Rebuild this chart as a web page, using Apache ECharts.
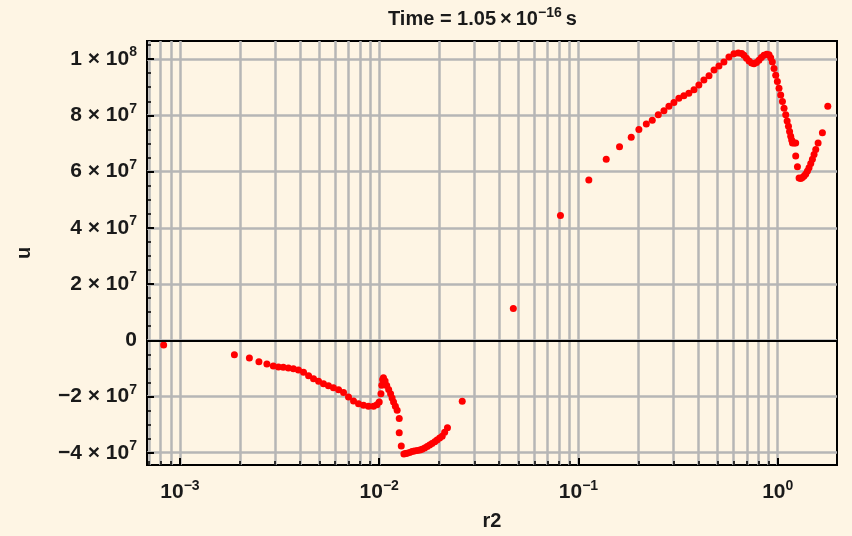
<!DOCTYPE html>
<html>
<head>
<meta charset="utf-8">
<script src="https://cdn.jsdelivr.net/npm/echarts@6/dist/echarts.min.js"></script>
<style>
html,body{margin:0;padding:0;background:#fef5e4;}
#chart{width:852px;height:536px;}
</style>
</head>
<body>
<div id="chart"></div>
<script>
// r2 / u samples
var r2 = [
  8.28e-4, 1.875e-3, 2.23e-3, 2.49e-3, 2.73e-3, 2.94e-3, 3.12e-3, 3.30e-3, 3.50e-3, 3.71e-3,
  3.93e-3, 4.17e-3, 4.42e-3, 4.68e-3, 4.96e-3, 5.25e-3, 5.56e-3, 5.89e-3, 6.25e-3, 6.62e-3,
  7.01e-3, 7.43e-3, 7.87e-3, 8.34e-3, 8.83e-3, 9.36e-3, 9.73e-3, 1.00e-2, 1.02e-2, 1.03e-2,
  1.04e-2, 1.05e-2, 1.07e-2, 1.09e-2, 1.115e-2, 1.14e-2, 1.16e-2, 1.18e-2, 1.205e-2, 1.23e-2,
  1.26e-2, 1.26e-2, 1.29e-2, 1.33e-2, 1.355e-2, 1.38e-2, 1.42e-2, 1.46e-2, 1.50e-2, 1.55e-2,
  1.60e-2, 1.64e-2, 1.69e-2, 1.74e-2, 1.79e-2, 1.84e-2, 1.90e-2, 1.95e-2, 2.01e-2, 2.07e-2,
  2.13e-2, 2.20e-2, 2.61e-2, 4.71e-2, 8.12e-2, 0.1127, 0.1378, 0.1607, 0.184, 0.201,
  0.219, 0.2346, 0.2515, 0.2685, 0.2844, 0.3013, 0.319, 0.338, 0.358, 0.38,
  0.402, 0.426, 0.452, 0.479, 0.507, 0.537, 0.569, 0.603, 0.634, 0.660,
  0.677, 0.697, 0.718, 0.740, 0.760, 0.782, 0.805, 0.828, 0.853, 0.880,
  0.904, 0.922, 0.940, 0.958, 0.977, 0.996, 1.015, 1.035, 1.056, 1.076,
  1.097, 1.115, 1.132, 1.147, 1.162, 1.175, 1.186, 1.21, 1.231, 1.231,
  1.256, 1.280, 1.305, 1.330, 1.356, 1.383, 1.41, 1.436, 1.465, 1.493,
  1.522, 1.552, 1.595, 1.676, 1.784
];
var u = [
  -1.66e6, -5.18e6, -6.34e6, -7.64e6, -8.46e6, -9.16e6, -9.5e6, -9.6e6, -9.87e6, -1.01e7,
  -1.06e7, -1.14e7, -1.26e7, -1.37e7, -1.46e7, -1.55e7, -1.62e7, -1.69e7, -1.76e7, -1.86e7,
  -2.02e7, -2.16e7, -2.26e7, -2.31e7, -2.35e7, -2.35e7, -2.29e7, -2.2e7, -1.9e7, -1.6e7,
  -1.4e7, -1.33e7, -1.45e7, -1.61e7, -1.75e7, -1.90e7, -2.05e7, -2.2e7, -2.35e7, -2.49e7,
  -2.78e7, -3.29e7, -3.76e7, -4.05e7, -4.03e7, -4.02e7, -3.99e7, -3.96e7, -3.94e7, -3.92e7,
  -3.90e7, -3.88e7, -3.83e7, -3.78e7, -3.73e7, -3.67e7, -3.61e7, -3.55e7, -3.48e7, -3.41e7,
  -3.27e7, -3.11e7, -2.17e7, 1.13e7, 4.44e7, 5.70e7, 6.44e7, 6.88e7, 7.22e7, 7.50e7,
  7.69e7, 7.83e7, 8.02e7, 8.16e7, 8.32e7, 8.46e7, 8.61e7, 8.70e7, 8.79e7, 8.91e7,
  9.08e7, 9.26e7, 9.41e7, 9.61e7, 9.76e7, 9.9e7, 1.008e8, 1.0195e8, 1.022e8, 1.020e8,
  1.014e8, 1.003e8, 9.93e7, 9.86e7, 9.84e7, 9.88e7, 9.96e7, 1.006e8, 1.014e8, 1.017e8,
  1.016e8, 1.005e8, 9.90e7, 9.67e7, 9.43e7, 9.2e7, 8.96e7, 8.72e7, 8.49e7, 8.25e7,
  8.02e7, 7.80e7, 7.61e7, 7.43e7, 7.26e7, 7.12e7, 7.02e7, 7.02e7, 7.02e7, 6.55e7,
  6.17e7, 5.77e7, 5.75e7, 5.79e7, 5.84e7, 5.91e7, 6.02e7, 6.14e7, 6.29e7, 6.44e7,
  6.61e7, 6.79e7, 7.02e7, 7.38e7, 8.32e7
];

var xTicks = [0.001, 0.01, 0.1, 1];
var xMinorTicks = [
  7e-4, 8e-4, 9e-4,
  0.002, 0.003, 0.004, 0.005, 0.006, 0.007, 0.008, 0.009,
  0.02, 0.03, 0.04, 0.05, 0.06, 0.07, 0.08, 0.09,
  0.2, 0.3, 0.4, 0.5, 0.6, 0.7, 0.8, 0.9
];
var yTicks = [-4e7, -2e7, 0, 2e7, 4e7, 6e7, 8e7, 1e8];
var yMinorTicks = [
  -4e7, -3.5e7, -3e7, -2.5e7, -2e7, -1.5e7, -1e7, -5e6, 0,
  5e6, 1e7, 1.5e7, 2e7, 2.5e7, 3e7, 3.5e7, 4e7, 4.5e7, 5e7,
  5.5e7, 6e7, 6.5e7, 7e7, 7.5e7, 8e7, 8.5e7, 9e7, 9.5e7, 1e8, 1.05e8
];

var xMin = 6.83e-4, xMax = 1.984;
var yMin = -4.437e7, yMax = 1.0645e8;

var points = [];
for (var i = 0; i < r2.length; i++) points.push([r2[i], u[i]]);

var font = 'Liberation Sans';
var ink = '#1a1a1a';
var gridGray = '#b6b6b6';
var rich = {
  sup: { fontSize: 14, fontWeight: 'bold', fontFamily: font, color: ink, lineHeight: 14, verticalAlign: 'top' }
};

function powLabel(v) {
  var e = Math.round(Math.log(v) / Math.LN10);
  var s = e < 0 ? '\u2212' + (-e) : '' + e;
  return '10{sup|' + s + '}';
}
function sciLabel(v) {
  if (v === 0) return '0';
  var e = Math.floor(Math.log(Math.abs(v)) / Math.LN10 + 1e-9);
  var m = Math.round(v / Math.pow(10, e));
  var ms = m < 0 ? '\u2212' + (-m) : '' + m;
  return ms + ' \u00d7 10{sup|' + e + '}';
}

var chart = echarts.init(document.getElementById('chart'));
chart.setOption({
  backgroundColor: '#fef5e4',
  animation: false,
  title: {
    text: 'Time = 1.05\u2009\u00d7\u200910{sup|\u221216}\u2009s',
    left: 383,
    top: 1,
    textStyle: {
      fontFamily: font, fontSize: 20, fontWeight: 'bold', color: ink, lineHeight: 27,
      rich: { sup: { fontSize: 14, fontWeight: 'bold', fontFamily: font, color: ink, lineHeight: 14, verticalAlign: 'top' } }
    }
  },
  grid: {
    left: 147, right: 15, top: 41, bottom: 70,
    show: true, borderColor: '#000', borderWidth: 2, backgroundColor: '#fef5e4'
  },
  xAxis: [{
    type: 'log', logBase: 10, min: xMin, max: xMax, position: 'bottom',
    name: 'r2', nameLocation: 'middle', nameGap: 46,
    nameTextStyle: { fontFamily: font, fontSize: 20, fontWeight: 'bold', color: ink },
    axisLine: { show: false, onZero: false },
    axisTick: { customValues: xTicks, inside: true, length: 7, lineStyle: { color: '#000', width: 2 } },
    axisLabel: {
      customValues: xTicks, margin: 14, fontFamily: font, fontSize: 21, fontWeight: 'bold',
      color: ink, lineHeight: 27, formatter: powLabel, rich: rich
    },
    splitLine: { show: true, lineStyle: { color: gridGray, width: 2.5 } }
  }, {
    type: 'log', logBase: 10, min: xMin, max: xMax, position: 'bottom',
    axisLine: { show: false, onZero: false },
    axisTick: { customValues: xMinorTicks, inside: true, length: 4, lineStyle: { color: '#000', width: 1.5 } },
    axisLabel: { show: false },
    splitLine: { show: true, lineStyle: { color: gridGray, width: 2.5 } }
  }],
  yAxis: [{
    type: 'value', min: yMin, max: yMax, position: 'left',
    name: 'u', nameLocation: 'middle', nameGap: 113,
    nameTextStyle: { fontFamily: font, fontSize: 20, fontWeight: 'bold', color: ink },
    axisLine: { show: false, onZero: false },
    axisTick: { customValues: yTicks, inside: true, length: 7, lineStyle: { color: '#000', width: 2 } },
    axisLabel: {
      customValues: yTicks, margin: 10, fontFamily: font, fontSize: 21, fontWeight: 'bold',
      color: ink, lineHeight: 27, formatter: sciLabel, rich: rich
    },
    splitLine: { show: true, lineStyle: { color: gridGray, width: 2.5 } }
  }, {
    type: 'value', min: yMin, max: yMax, position: 'left',
    axisLine: { show: false, onZero: false },
    axisTick: { customValues: yMinorTicks, inside: true, length: 4, lineStyle: { color: '#000', width: 1.5 } },
    axisLabel: { show: false },
    splitLine: { show: false }
  }],
  series: [{
    type: 'scatter',
    xAxisIndex: 0, yAxisIndex: 0,
    data: points,
    symbolSize: 7,
    itemStyle: { color: '#ff0000', opacity: 1 },
    markLine: {
      silent: true, symbol: 'none', animation: false,
      label: { show: false },
      lineStyle: { color: '#000', width: 2, type: 'solid' },
      data: [{ yAxis: 0 }]
    }
  }]
});
</script>
</body>
</html>
